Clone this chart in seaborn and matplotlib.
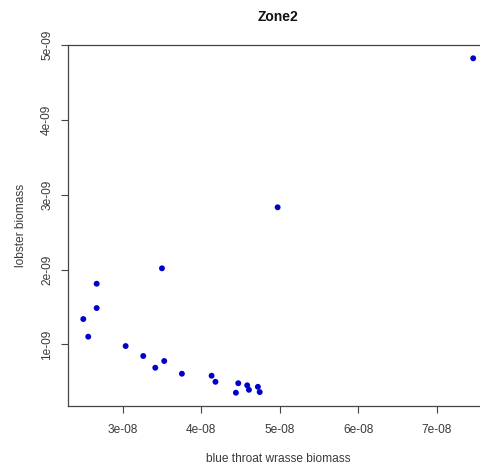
import matplotlib
matplotlib.use("Agg")
import matplotlib.pyplot as plt
import numpy as np
import pandas as pd
import seaborn as sns

# blue throat wrasse vs lobster biomass, Zone 2 sites
wrasse = [2.499e-08, 2.562e-08, 2.669e-08, 2.669e-08, 3.038e-08, 3.262e-08,
          3.415e-08, 3.529e-08, 3.500e-08, 3.754e-08, 4.132e-08, 4.181e-08,
          4.441e-08, 4.471e-08, 4.585e-08, 4.607e-08, 4.721e-08, 4.744e-08,
          4.972e-08, 7.461e-08]
lobster = [1.338e-09, 1.102e-09, 1.810e-09, 1.485e-09, 0.977e-09, 0.844e-09,
           0.687e-09, 0.777e-09, 2.016e-09, 0.607e-09, 0.580e-09, 0.499e-09,
           0.353e-09, 0.480e-09, 0.452e-09, 0.392e-09, 0.432e-09, 0.362e-09,
           2.832e-09, 4.824e-09]

x_ticks = [3e-08, 4e-08, 5e-08, 6e-08, 7e-08]
x_tick_labels = ["3e-08", "4e-08", "5e-08", "6e-08", "7e-08"]
y_ticks = [1e-09, 2e-09, 3e-09, 4e-09, 5e-09]
y_tick_labels = ["1e-09", "2e-09", "3e-09", "4e-09", "5e-09"]

df = pd.DataFrame({"wrasse": wrasse, "lobster": lobster})

sns.set_style("white")
plt.rcParams["font.family"] = ["Liberation Sans", "DejaVu Sans"]

W, H = 481, 469
fig = plt.figure(figsize=(W / 100, H / 100), dpi=100)
ax = fig.add_axes([67.7 / W, 1 - 406.1 / H, 421.1 / W, 361.2 / H])

sns.scatterplot(data=df, x="wrasse", y="lobster", ax=ax, s=18,
                color="#0000CC", edgecolor="none", linewidth=0)

# 4% padding on each side of the data range
def padded(v):
    lo, hi = min(v), max(v)
    d = (hi - lo) * 0.04
    return lo - d, hi + d

ax.set_xlim(*padded(wrasse))
ax.set_ylim(*padded(lobster))

ax.set_xticks(x_ticks)
ax.set_xticklabels(x_tick_labels)
ax.set_yticks(y_ticks)
ax.set_yticklabels(y_tick_labels, rotation=90, va="center")

txt = "#3a3a3a"
ax.tick_params(axis="both", direction="out", length=5, width=0.8,
               color="#444444", labelsize=8.6, labelcolor=txt,
               bottom=True, left=True)
ax.tick_params(axis="x", pad=8)
ax.tick_params(axis="y", pad=5.5)

for sp in ax.spines.values():
    sp.set_visible(True)
    sp.set_color("#444444")
    sp.set_linewidth(0.9)

ax.set_xlabel("blue throat wrasse biomass", fontsize=8.6, color=txt, labelpad=12)
ax.set_ylabel("lobster biomass", fontsize=8.6, color=txt, labelpad=10)
ax.set_title("Zone2", fontsize=10, fontweight="bold", color="#111111", pad=17)

fig.savefig("out.png", dpi=100)
